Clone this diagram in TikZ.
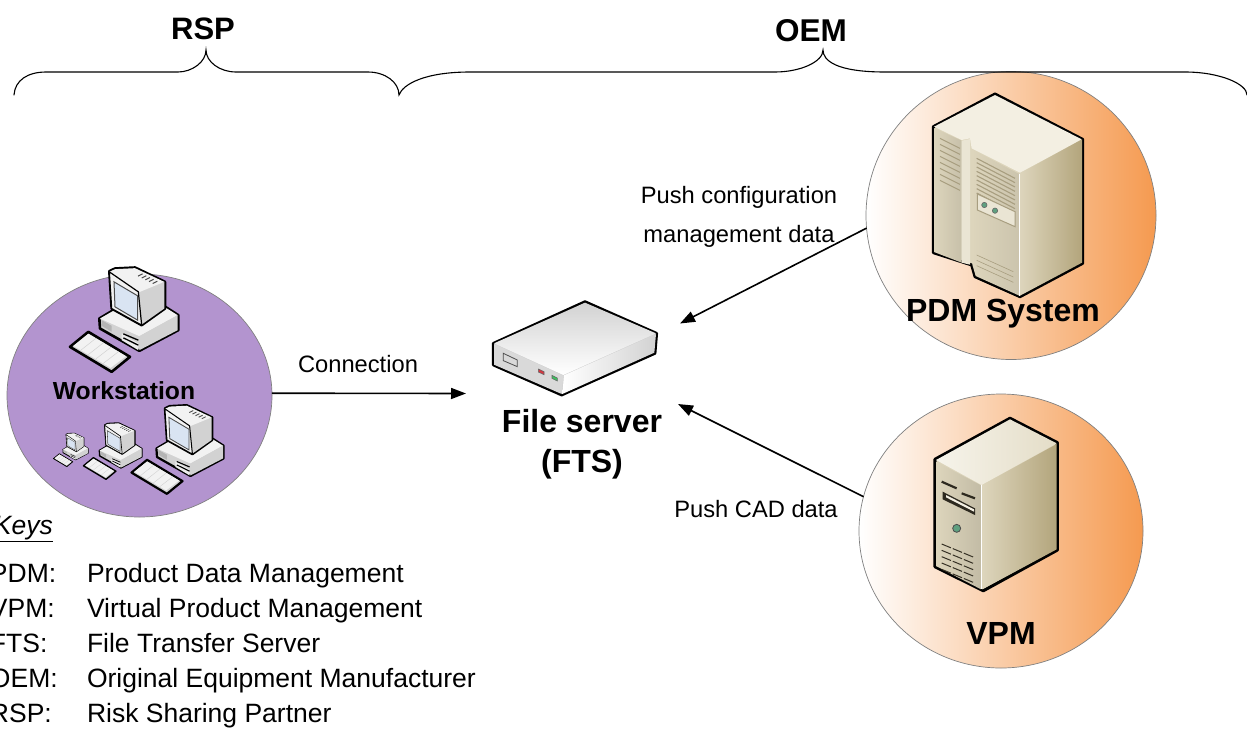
\documentclass[tikz,border=0pt]{standalone}
\usepackage{fontspec}
\setmainfont{Liberation Sans}
\usetikzlibrary{shapes.geometric,arrows.meta,calc}
\definecolor{wsfill}{HTML}{B394CF}
\definecolor{orangeR}{HTML}{F59A50}
\definecolor{ringc}{HTML}{808080}
\definecolor{beigeTop}{HTML}{F3EFE2}
\definecolor{beigeF}{HTML}{DDD5BC}
\definecolor{beigeD}{HTML}{B3A57C}
\definecolor{beigeL}{HTML}{EAE5D4}
\definecolor{ventc}{HTML}{A89E80}
\definecolor{pcwhite}{HTML}{F2F2F2}
\definecolor{pcgray}{HTML}{D2D2D2}
\definecolor{pcdark}{HTML}{B4B4B4}
\definecolor{screenc}{HTML}{D9E4F2}
\definecolor{ledgreen}{HTML}{3FBF5F}
\definecolor{ledred}{HTML}{D8353F}
\definecolor{btn}{HTML}{5FA080}
\tikzset{
  ring/.style={shape=ellipse,draw=ringc,line width=0.7pt,inner sep=0pt,outer sep=0pt},
  orangeball/.style={ring,left color=white,right color=orangeR},
  body/.style={font=\fontsize{23.7}{28}\selectfont,inner sep=0pt,outer sep=0pt},
  keytxt/.style={font=\fontsize{26.5}{30}\selectfont,inner sep=0pt,outer sep=0pt,anchor=base west},
  big/.style={font=\fontsize{32}{38}\selectfont\bfseries,inner sep=0pt,outer sep=0pt,align=center},
  brace/.style={line width=1.1pt,black,line cap=round},
  conn/.style={line width=1.6pt,-{Triangle[length=15pt,width=11pt]}},
  edge/.style={draw=black,line join=round},
}
% workstation icon; local coordinates are 3x pixels with origin at icon's top-left
\newcommand{\wsicon}[3]{%
\begin{scope}[shift={(#1,#2)},x=#3pt/3,y=-#3pt/3]
 % keyboard
 \fill[pcgray,edge,line width=#3*2.6pt] (0,235)--(55,190)--(180,265)--(125,310)--cycle;
 \fill[pcwhite] (10,232)--(55,196)--(168,263)--(122,298)--cycle;
 \foreach \t in {0.2,0.4,0.6,0.8}{\draw[pcgray,line width=#3*0.5pt] ($(10,232)!\t!(122,298)$)--($(55,196)!\t!(168,263)$);}
 % base
 \fill[pcgray,edge,line width=#3*2.6pt] (88,150)--(135,122)--(275,108)--(325,140)--(325,185)--(208,247)--(90,180)--cycle;
 \fill[pcwhite] (90,150)--(135,124)--(275,110)--(323,140)--(208,203)--cycle;
 \fill[pcgray] (208,203)--(323,140)--(323,185)--(208,245)--cycle;
 \fill[pcwhite!80!pcgray] (155,195)--(205,225)--(205,245)--(155,215)--cycle;
 \draw[black,line width=#3*1.3pt] (160,196)--(205,215) (160,208)--(205,230);
 \fill[pcdark] (95,155)--(125,172)--(125,190)--(95,172)--cycle;
 % monitor
 \fill[pcgray,edge,line width=#3*2.6pt] (118,8)--(135,0)--(195,-3)--(285,40)--(285,120)--(215,170)--(125,120)--cycle;
 \fill[pcgray] (205,70)--(283,40)--(283,120)--(215,168)--cycle;
 \fill[pcwhite] (118,10)--(135,2)--(195,-1)--(283,40)--(205,72)--cycle;
 \fill[pcwhite,edge,line width=#3*1.2pt] (118,10)--(205,70)--(215,170)--(125,120)--cycle;
 \fill[screenc,draw=black!70,line width=#3*1pt] (132,40)--(203,82)--(203,155)--(135,115)--cycle;
 \foreach \t in {0,0.25,0.5,0.75,1}{\draw[black!70,line width=#3*1pt] ($(218,16)!\t!(262,38)$)--++(-14,7);}
\end{scope}}
\begin{document}
\begin{tikzpicture}[x=1pt,y=-1pt]
\useasboundingbox (0,0) rectangle (1247,729);
\clip (0,0) rectangle (1247,729);
\fill[white] (0,0) rectangle (1247,729);

% circles
\node[ring,fill=wsfill,minimum width=265pt,minimum height=243pt] (ws) at (139.5,395.5) {};
\node[orangeball,minimum width=290pt,minimum height=288pt] (pdm) at (1011,215.5) {};
\node[orangeball,minimum width=284pt,minimum height=274pt] (vpm) at (1001,531) {};

% braces
\coordinate (b0) at (14,95);
\coordinate (t1) at (206,50);
\coordinate (b1) at (399,95);
\coordinate (t2) at (823,50);
\coordinate (b2) at (1247,95);
\draw[brace] (b0) .. controls (15,80) and (28,72) .. (46,72) -- (178,72) .. controls (192,72) and (206,62) .. (t1)
  .. controls (206,62) and (220,72) .. (236,72) -- (368,72) .. controls (385,72) and (399,82) .. (b1)
  .. controls (403,84) and (425,72) .. (470,72) -- (775,72) .. controls (800,72) and (823,62) .. (t2)
  .. controls (823,60) and (835,72) .. (885,72) -- (1185,72) .. controls (1220,72) and (1247,84) .. (b2);

% PDM server
\begin{scope}[shift={(860,70)},x=1pt/3,y=-1pt/3]
 \fill[beigeF,edge,line width=3pt] (220,170)--(405,72)--(668,208)--(668,580)--(480,680)--(345,620)--(335,585)--(220,548)--cycle;
 \fill[beigeTop] (222,170)--(405,75)--(665,208)--(480,308)--(335,235)--(330,205)--(305,210)--cycle;
 \shade[left color=beigeF,right color=beigeF!90!black] (222,174)--(305,212)--(305,578)--(222,546)--cycle;
 \fill[beigeL] (305,212)--(330,207)--(330,584)--(305,578)--cycle;
 \shade[left color=beigeF,right color=beigeF!92!black] (335,238)--(478,312)--(478,677)--(347,618)--(337,584)--cycle;
 \shade[left color=beigeF,middle color=beigeL,right color=beigeD] (480,310)--(666,208)--(666,578)--(480,677)--cycle;
 \draw[white,line width=1pt] (478,312)--(478,677);
 \foreach \i in {0,...,7}{\draw[ventc,line width=1pt] (240,205+18*\i)--(300,235+18*\i);}
 \foreach \i in {0,...,8}{\draw[ventc,line width=1.1pt] (350,265+13*\i)--(465,325+13*\i);}
 \fill[beigeL,draw=ventc,line width=1pt] (352,372)--(465,425)--(465,470)--(352,420)--cycle;
 \fill[btn,draw=black!60,line width=0.6pt] (373,405) circle[radius=8];
 \fill[btn,draw=black!60,line width=0.6pt] (405,422) circle[radius=8];
 \foreach \i in {0,1,2}{\draw[ventc,line width=0.6pt] (350,555+16*\i)--(460,605+16*\i);}
\end{scope}

% VPM server
\begin{scope}[shift={(850,380)},x=1pt/3,y=-1pt/3]
 \fill[beigeF,edge,line width=3.2pt] (255,238)--(480,115)--(622,188)--(622,510)--(400,632)--(255,560)--cycle;
 \shade[left color=beigeTop!70!white,right color=beigeF!70!beigeTop] (258,240)--(480,118)--(620,190)--(395,315)--cycle;
 \shade[left color=beigeF,right color=beigeF!88!black] (258,245)--(393,316)--(393,628)--(258,558)--cycle;
 \shade[left color=beigeF,middle color=beigeL,right color=beigeD] (397,315)--(620,192)--(620,508)--(397,628)--cycle;
 \draw[white,line width=1pt] (395,315)--(395,628);
 \draw[black!75!beigeD,line width=2.2pt] (275,305)--(320,325) (335,340)--(375,355);
 \fill[black!75!beigeD] (278,335)--(375,385)--(375,405)--(278,358)--cycle;
 \fill[beigeTop] (288,345)--(372,388)--(372,395)--(288,352)--cycle;
 \fill[btn,draw=black!70,line width=0.8pt] (320,445) circle[radius=12];
 \foreach \i in {0,1,2,3,4}{\draw[black!70!beigeD,line width=1pt,dash pattern=on 10pt off 2pt] (275,492+19*\i)--(372,532+19*\i);}
\end{scope}

% File server
\begin{scope}[shift={(480,290)},x=1pt/3,y=-1pt/3]
 \fill[pcgray,edge,line width=2.8pt] (40,160)--(315,35)--(530,130)--(525,190)--(245,315)--(40,225)--cycle;
 \shade[top color=pcgray,bottom color=white] (42,160)--(315,38)--(528,130)--(250,255)--cycle;
 \fill[pcgray!85!white] (42,162)--(250,257)--(245,312)--(42,224)--cycle;
 \shade[left color=white,right color=pcgray] (252,256)--(528,132)--(523,188)--(247,312)--cycle;
 \draw[black!70,line width=0.8pt] (70,190)--(112,210)--(112,230)--(70,212)--cycle;
 \fill[ledred,draw=black!60,line width=0.6pt] (175,237)--(192,245)--(192,254)--(175,246)--cycle;
 \fill[ledgreen,draw=black!60,line width=0.6pt] (216,256)--(232,264)--(232,273)--(216,265)--cycle;
\end{scope}

% Workstation icons
\wsicon{70}{268.5}{1}
\wsicon{131.5}{406}{0.85}
\wsicon{83.5}{423.5}{0.54}
\wsicon{53.5}{433.5}{0.32}

% connectors
\coordinate (a1) at (466,393.5);
\coordinate (a2) at (680,323.5);
\coordinate (a3) at (678,404);
\draw[conn] (ws.1) -- (a1);
\draw[conn] (pdm.185) -- (a2);
\draw[conn] (vpm.166.5) -- (a3);

% labels
\node[font=\fontsize{31}{36}\selectfont\bfseries,inner sep=0pt,anchor=base] (lrsp) at (203,39) {RSP};
\node[font=\fontsize{31.5}{36}\selectfont\bfseries,inner sep=0pt,anchor=base] (loem) at (811,41) {OEM};
\node[font=\fontsize{24.7}{30}\selectfont\bfseries,inner sep=0pt,anchor=base] (lws) at (124,399) {Workstation};
\node[big,anchor=base] (lpdm) at (1003,321) {PDM System};
\node[big,anchor=base] (lvpm) at (1001,644) {VPM};
\node[big,anchor=base] (lfts1) at (582,432) {File server};
\node[big,anchor=base] (lfts2) at (582,472) {(FTS)};
\node[body,anchor=base] (lconn) at (358,372) {Connection};
\node[body,anchor=base] (lp1) at (739,203) {Push configuration};
\node[body,anchor=base] (lp2) at (739,242) {management data};
\node[body,anchor=base] (lp3) at (756,517) {Push CAD data};

% keys
\node[keytxt] (k0) at (-6,534) {\underline{\textit{Keys}}};
\node[keytxt] (k1a) at (-10,582) {PDM:};
\node[keytxt] (k1b) at (87,582) {Product Data Management};
\node[keytxt] (k2a) at (-10,617) {VPM:};
\node[keytxt] (k2b) at (87,617) {Virtual Product Management};
\node[keytxt] (k3a) at (-10,652) {FTS:};
\node[keytxt] (k3b) at (87,652) {File Transfer Server};
\node[keytxt] (k4a) at (-10,687) {OEM:};
\node[keytxt] (k4b) at (87,687) {Original Equipment Manufacturer};
\node[keytxt] (k5a) at (-10,722) {RSP:};
\node[keytxt] (k5b) at (87,722) {Risk Sharing Partner};
\end{tikzpicture}
\end{document}
